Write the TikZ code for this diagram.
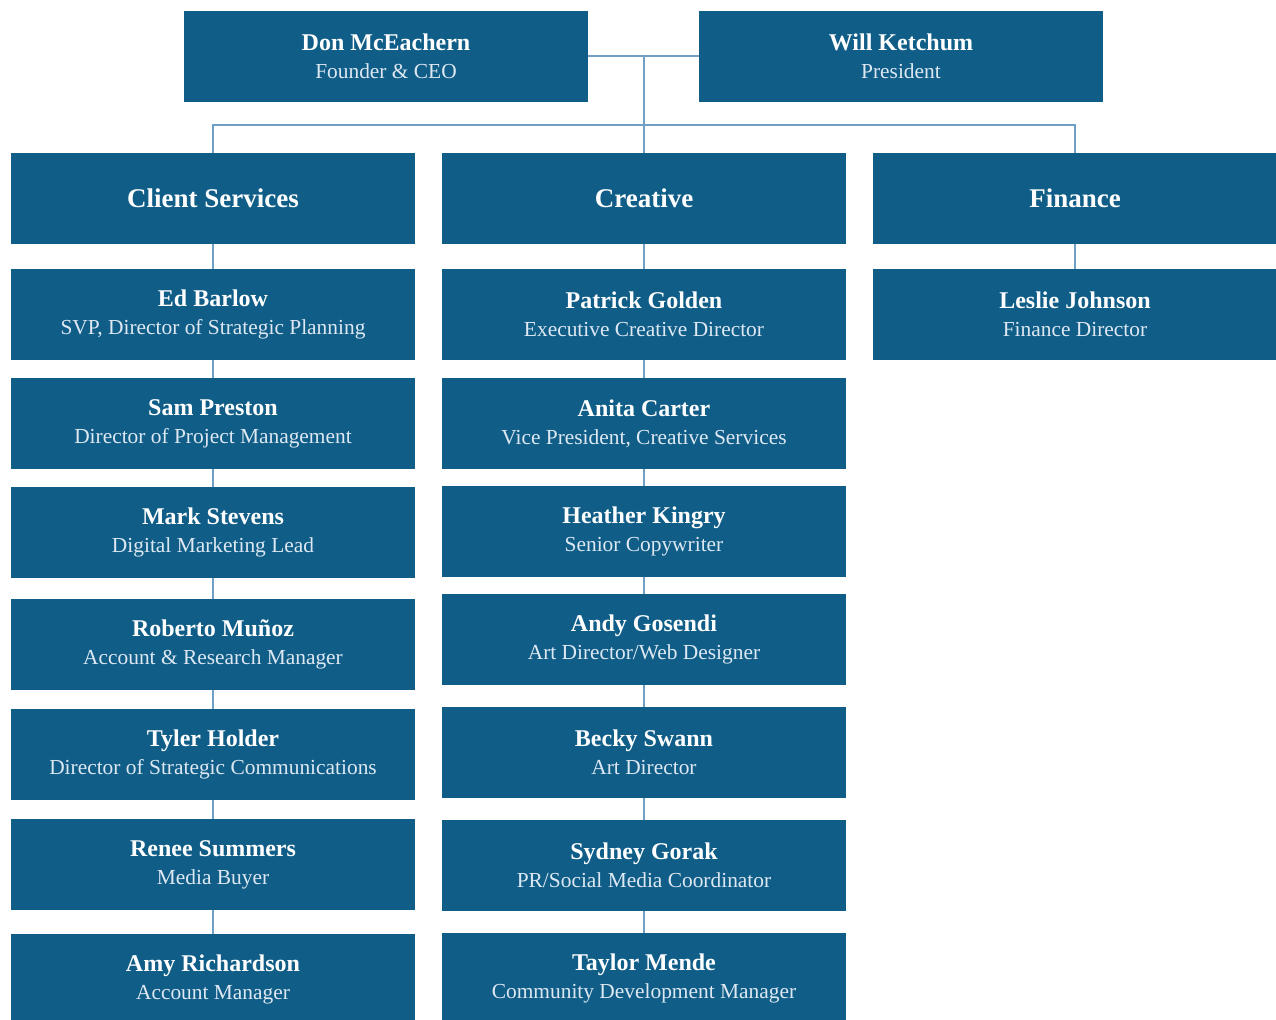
\documentclass[tikz,border=0pt]{standalone}
\usepackage{fontspec}
\setmainfont{Liberation Serif}
\definecolor{boxblue}{RGB}{16,94,136}
\definecolor{linkblue}{RGB}{112,160,198}
\definecolor{subtxt}{RGB}{222,232,242}
\tikzset{
  orgbox/.style={fill=boxblue, draw=none, minimum width=202pt, minimum height=45.5pt,
    inner sep=0pt, align=center, text=white, font=\fontsize{10.7}{14}\selectfont},
  headbox/.style={orgbox, font=\bfseries\fontsize{13.5}{16}\selectfont},
  link/.style={draw=linkblue, line width=0.8pt}
}
\newcommand{\person}[2]{{\bfseries\fontsize{12}{14}\selectfont #1}\\{\color{subtxt}#2}}
\begin{document}
\begin{tikzpicture}[x=0.5pt,y=-0.5pt]
\useasboundingbox (0,0) rectangle (1276,1019);
% top
\node[orgbox] (don) at (386,56) {\person{Don McEachern}{Founder \& CEO}};
\node[orgbox] (will) at (901,56) {\person{Will Ketchum}{President}};
% headers
\node[headbox] (cs) at (213,198.5) {Client Services};
\node[headbox] (cr) at (644,198.5) {Creative};
\node[headbox] (fi) at (1075,198.5) {Finance};
% client services column
\node[orgbox] (l1) at (213,314.5) {\person{Ed Barlow}{SVP, Director of Strategic Planning}};
\node[orgbox] (l2) at (213,423.5) {\person{Sam Preston}{Director of Project Management}};
\node[orgbox] (l3) at (213,532.5) {\person{Mark Stevens}{Digital Marketing Lead}};
\node[orgbox] (l4) at (213,644.5) {\person{Roberto Muñoz}{Account \& Research Manager}};
\node[orgbox] (l5) at (213,754.5) {\person{Tyler Holder}{Director of Strategic Communications}};
\node[orgbox] (l6) at (213,864.5) {\person{Renee Summers}{Media Buyer}};
\node[orgbox] (l7) at (213,979.5) {\person{Amy Richardson}{Account Manager}};
% creative column
\node[orgbox] (r1) at (644,314.5) {\person{Patrick Golden}{Executive Creative Director}};
\node[orgbox] (r2) at (644,423.5) {\person{Anita Carter}{Vice President, Creative Services}};
\node[orgbox] (r3) at (644,531.5) {\person{Heather Kingry}{Senior Copywriter}};
\node[orgbox] (r4) at (644,639.5) {\person{Andy Gosendi}{Art Director/Web Designer}};
\node[orgbox] (r5) at (644,752.5) {\person{Becky Swann}{Art Director}};
\node[orgbox] (r6) at (644,865.5) {\person{Sydney Gorak}{PR/Social Media Coordinator}};
\node[orgbox] (r7) at (644,978.5) {\person{Taylor Mende}{Community Development Manager}};
% finance column
\node[orgbox] (f1) at (1075,314.5) {\person{Leslie Johnson}{Finance Director}};
% connectors
\coordinate (j) at (644,56);
\coordinate (bar) at (644,125);
\draw[link] (don.east) -- (will.west);
\draw[link] (j) -- (cr.north);
\draw[link] (cs.north) |- (bar) -| (fi.north);
\draw[link] (cs.south) -- (l1.north);
\draw[link] (l1.south) -- (l2.north);
\draw[link] (l2.south) -- (l3.north);
\draw[link] (l3.south) -- (l4.north);
\draw[link] (l4.south) -- (l5.north);
\draw[link] (l5.south) -- (l6.north);
\draw[link] (l6.south) -- (l7.north);
\draw[link] (cr.south) -- (r1.north);
\draw[link] (r1.south) -- (r2.north);
\draw[link] (r2.south) -- (r3.north);
\draw[link] (r3.south) -- (r4.north);
\draw[link] (r4.south) -- (r5.north);
\draw[link] (r5.south) -- (r6.north);
\draw[link] (r6.south) -- (r7.north);
\draw[link] (fi.south) -- (f1.north);
\end{tikzpicture}
\end{document}
